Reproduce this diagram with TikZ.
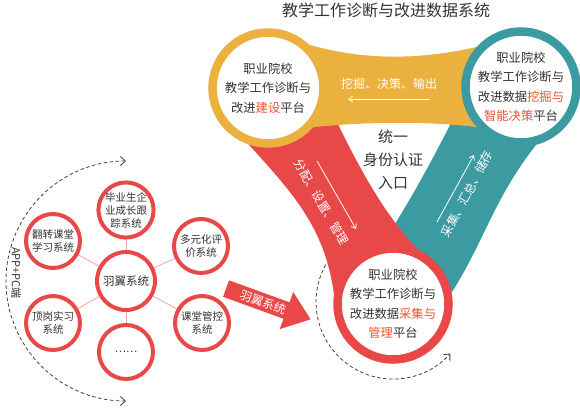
\documentclass[tikz,border=0pt]{standalone}
\usepackage{fontspec}
\setmainfont{Noto Sans CJK SC}
\usepackage{xcolor}
\usetikzlibrary{arrows.meta,shapes.arrows}
\definecolor{gold}{HTML}{EBB13F}
\definecolor{ringred}{HTML}{E84848}
\definecolor{ringteal}{HTML}{3C9AA1}
\definecolor{hilite}{HTML}{EA5530}
\definecolor{dashbrown}{HTML}{5B3A2E}
\definecolor{linkpink}{HTML}{F2A3A3}
\definecolor{txt}{HTML}{333333}

\begin{document}
\begin{tikzpicture}[x=1pt,y=-1pt,>={Straight Barb[length=5pt,width=9pt]},ring/.style={circle,draw=#1,line width=8.5pt,fill=white,minimum size=111pt,inner sep=0pt,align=center,text=txt,font=\fontsize{12.3}{19.5}\selectfont},sat/.style={circle,draw=ringred,line width=4pt,fill=white,minimum size=54pt,inner sep=0pt,align=center,text=txt,font=\fontsize{10.5}{13}\selectfont},tag/.style={text=white,font=\fontsize{12}{14}\selectfont},flow/.style={white,line width=0.8pt,-{Straight Barb[length=4pt,width=6pt]}},loop/.style={dashbrown,line width=0.8pt,dash pattern=on 3.5pt off 2.5pt},link/.style={linkpink,line width=0.8pt}]
\useasboundingbox (0,0) rectangle (580,410);
% three bands
\fill[ringteal] (455,115) .. controls (430,165) and (410,200) .. (390,232) -- (415,262) -- (452,292) .. controls (485,240) and (495,195) .. (540,140) -- cycle;
\fill[ringred] (240,135) .. controls (290,190) and (325,225) .. (334,295) -- (400,262) -- (418,250) .. controls (385,215) and (360,170) .. (335,118) -- cycle;
\fill[gold] (300,42) .. controls (360,61) and (420,61) .. (485,45) -- (485,128) .. controls (430,121) and (370,121) .. (305,128) -- cycle;
% platforms
\node[ring=gold] (jianshe) at (268,88) {职业院校\\教学工作诊断与\\改进\textcolor{hilite}{建设}平台};
\node[ring=ringteal] (juece) at (521,87) {职业院校\\教学工作诊断与\\改进数据\textcolor{hilite}{挖掘与}\\\textcolor{hilite}{智能决策}平台};
\node[ring=ringred] (guanli) at (393,304) {职业院校\\教学工作诊断与\\改进数据\textcolor{hilite}{采集与}\\\textcolor{hilite}{管理}平台};
\node[text=txt,font=\fontsize{16}{18}\selectfont] (title) at (386,10) {教学工作诊断与改进数据系统};
\node[align=center,text=txt,font=\fontsize{15}{23}\selectfont] (rukou) at (393,160) {统一\\身份认证\\入口};
% band labels and flows
\node[tag] (wajue) at (389,84) {挖掘、决策、输出};
\node[tag,rotate=-60] (fenpei) at (321,202) {分配、设置、管理};
\node[tag,rotate=62] (huizong) at (467,194) {采集、汇总、储存};
\coordinate (ya) at (430,99); \coordinate (yb) at (348,99);
\coordinate (ra) at (317,161); \coordinate (rb) at (356,229);
\coordinate (ta) at (437,222); \coordinate (tb) at (474,155);
\draw[flow] (ya) -- (yb);\draw[flow] (ra) -- (rb);\draw[flow] (ta) -- (tb);
\coordinate (cycstart) at (325.7,264.7);
\draw[loop,->] (cycstart) arc[start angle=151,end angle=318,radius=77pt];
% yuyi cluster
\node[sat,minimum size=58pt,font=\fontsize{11.5}{14}\selectfont] (yuyi) at (126,281) {羽翼系统};
\node[sat] (genzong) at (126,210) {毕业生企\\业成长跟\\踪系统};
\node[sat] (fanzhuan) at (53,241) {翻转课堂\\学习系统};
\node[sat] (pingjia) at (201,246) {多元化评\\价系统};
\node[sat] (dinggang) at (53,323) {顶岗实习\\系统};
\node[sat] (guankong) at (202,323) {课堂管控\\系统};
\node[sat] (gengduo) at (126,352) {……};
\foreach \s in {genzong,fanzhuan,pingjia,dinggang,guankong,gengduo} \draw[link] (yuyi) -- (\s);
\coordinate (apptop) at (126,161);
\draw[loop,<->] (apptop) arc[start angle=90,end angle=270,radius=120pt];
\node[rotate=-90,text=txt,font=\fontsize{11}{13}\selectfont] (duan) at (16,273) {APP+PC端};
\node[single arrow,fill=ringred,rotate=-20,text=white,font=\fontsize{12}{13}\selectfont,inner xsep=2.5pt,inner ysep=3pt,minimum height=90pt,single arrow head extend=11pt,single arrow tip angle=75] (yuyiarrow) at (263,302) {羽翼系统};
\end{tikzpicture}
\end{document}
